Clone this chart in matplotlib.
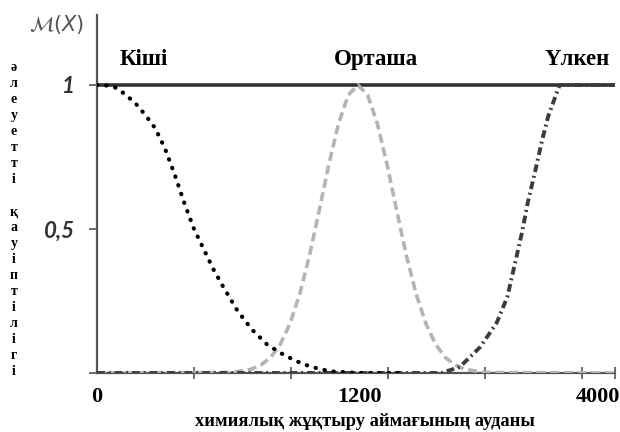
import matplotlib
matplotlib.use("Agg")
import matplotlib.pyplot as plt

# x in tick-spacing units (ticks at 0..5), y is membership value
small_x = [0, 0.1, 0.2, 0.3, 0.4, 0.5, 0.6, 0.7, 0.8, 0.9, 1.0, 1.1, 1.2, 1.3,
           1.45, 1.6, 1.75, 1.9, 2.05, 2.2, 2.4, 2.7, 3.1]
small_y = [1.0, 0.998, 0.99, 0.965, 0.935, 0.895, 0.85, 0.78, 0.69, 0.59, 0.50,
           0.43, 0.36, 0.30, 0.215, 0.15, 0.10, 0.068, 0.042, 0.022, 0.006, 0.0, 0.0]

mid_x = [0, 1.39, 1.59, 1.69, 1.79, 1.89, 1.99, 2.09, 2.19, 2.29, 2.39, 2.49, 2.59,
         2.69, 2.79, 2.89, 2.99, 3.09, 3.19, 3.29, 3.39, 3.49, 3.59, 3.69, 3.79,
         3.99, 5.34]
mid_y = [0, 0.002, 0.013, 0.028, 0.054, 0.10, 0.172, 0.274, 0.407, 0.563, 0.724,
         0.866, 0.965, 1.0, 0.965, 0.866, 0.724, 0.563, 0.407, 0.274, 0.172, 0.10,
         0.054, 0.028, 0.013, 0.002, 0]

big_x = [0, 3.55, 3.74, 3.95, 4.12, 4.23, 4.31, 4.38, 4.44, 4.52, 4.59, 4.65,
         4.72, 4.77, 5.34]
big_y = [0, 0.0, 0.021, 0.090, 0.174, 0.264, 0.382, 0.486, 0.59, 0.705, 0.81,
         0.89, 0.955, 1.0, 1.0]

categories = ["Кіші", "Орташа", "Үлкен"]
cat_pos = [0.48, 2.88, 4.95]
xtick_pos = [0, 2.71, 5.16]
xtick_labels = ["0", "1200", "4000"]
ytick_vals = [0, 0.5, 1]
ytick_labels = ["", "0,5", "1"]
ylabel_txt = "әлеуетті қауіптілігі"
xlabel_txt = "химиялық жұқтыру аймағының ауданы"

serif = ["Liberation Serif", "DejaVu Serif"]

fig = plt.figure(figsize=(6.2, 4.32), dpi=100)
ax = fig.add_axes([97/620, 59/432, 518/620, 358/432])

ax.axhline(1.0, color="#333333", lw=2.6, zorder=2)
ax.plot(small_x, small_y, color="black", lw=3.0, linestyle=(0, (0.1, 2.1)),
        dash_capstyle="round", zorder=4)
ax.plot(mid_x, mid_y, color="#b4b4b4", lw=2.6, linestyle=(0, (2.5, 1.3)), zorder=3)
ax.plot(big_x, big_y, color="#3c3c3c", lw=2.8, linestyle=(0, (2.0, 1.0, 0.5, 1.0)),
        zorder=3)

ax.set_xlim(0, 5.34)
ax.set_ylim(0, 1.243)
for s in ["top", "right"]:
    ax.spines[s].set_visible(False)
for s in ["left", "bottom"]:
    ax.spines[s].set_color("#555555")
    ax.spines[s].set_linewidth(1.6)

ax.set_xticks(xtick_pos)
ax.set_xticklabels(xtick_labels, fontfamily=serif, fontweight="bold", fontsize=16)
ax.tick_params(axis="x", length=0, pad=10)
ax.set_xticks([0, 1, 2, 3, 4, 5, 5.34], minor=True)
ax.tick_params(axis="x", which="minor", direction="inout", length=8, width=1.2,
               color="#555555")

ax.set_yticks(ytick_vals)
ax.set_yticklabels(ytick_labels, fontfamily=["Lato", "DejaVu Sans"],
                   fontstyle="italic", fontweight="bold", fontsize=16, color="#333333")
ax.tick_params(axis="y", direction="out", length=6, width=1.2, color="#555555", pad=10)

for name, xp in zip(categories, cat_pos):
    ax.text(xp, 1.087, name, ha="center", va="center", fontfamily=serif,
            fontweight="bold", fontsize=16.5)

fig.text(57/620, 1 - 25/432, r"$\mathcal{M}(X)$", ha="center", va="center",
         fontsize=15, color="#555555")

fig.text(365/620, 1 - 422/432, xlabel_txt, ha="center", va="center",
         fontfamily=serif, fontweight="bold", fontsize=13.3)

fig.text(14/620, 1 - 61/432, "\n".join(ylabel_txt), ha="center", va="top",
         fontfamily=serif, fontweight="bold", fontsize=10, linespacing=1.3)

fig.savefig("out.png", dpi=100)
